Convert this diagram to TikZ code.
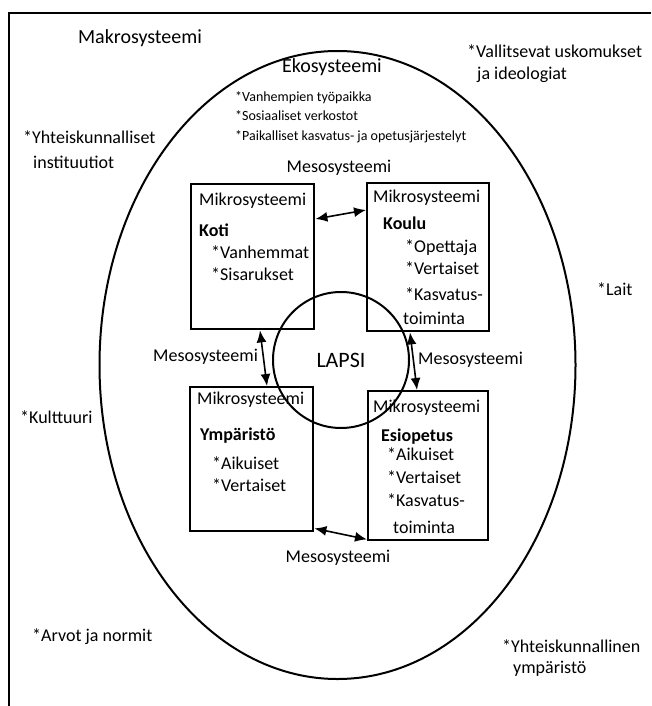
\documentclass[tikz,border=0pt]{standalone}
\usepackage{fontspec}
\setmainfont{Carlito}
\usetikzlibrary{arrows.meta,positioning}
\tikzset{>={Latex[length=12pt,width=10pt]},
	box/.style={% the four microsystems
		draw, rectangle,
		line width=2.4pt,
		anchor=north west,
		inner sep=0pt
	},
	boxtext/.style={
		align=left,
		inner sep=0pt,
		font=\fontsize{18}{22}\selectfont
	},
	note/.style={inner sep=0pt, align=left, font=\fontsize{18}{22}\selectfont},
	big/.style={inner sep=0pt, font=\fontsize{20}{25}\selectfont},
	small/.style={inner sep=0pt, align=left, font=\fontsize{14}{19.5}\selectfont},
	link/.style={<->, line width=1.6pt}
}
\begin{document}
\begin{tikzpicture}[x=1pt, y=-1pt]
		\useasboundingbox (0,0) rectangle (651,706);
		\draw [line width=2.2pt] (651,13) -- (9,13) -- (9,706);
		\draw [line width=2pt] (337.5,365) ellipse [x radius=238pt, y radius=314pt];

		\node [big] (makro) at (140,38) {Makrosysteemi};
		\node [big] (eko) at (332,67) {Ekosysteemi};
		\node [small, anchor=west] (ekolist) at (235,117) {*Vanhempien työpaikka\\ *Sosiaaliset verkostot\\ *Paikalliset kasvatus- ja opetusjärjestelyt};

		\node [note, anchor=west, font=\fontsize{18}{22}\selectfont] (usko) at (467,64) {*Vallitsevat uskomukset\\ \hspace*{10pt}ja ideologiat};
		\node [note, anchor=west, font=\fontsize{18}{25}\selectfont] (inst) at (23,150) {*Yhteiskunnalliset\\ \hspace*{10pt}instituutiot};
		\node [note, anchor=west] (lait) at (597,289) {*Lait};
		\node [note, anchor=west] (kult) at (20,417) {*Kulttuuri};
		\node [note, anchor=west] (arvot) at (32,637) {*Arvot ja normit};
		\node [note, anchor=west, font=\fontsize{18}{21}\selectfont] (ymp) at (502,658) {*Yhteiskunnallinen\\ \hspace*{11pt}ympäristö};

		\node [draw, circle, line width=2pt, minimum size=136pt, inner sep=0pt, font=\fontsize{22}{26}\selectfont] (lapsi) at (341,360) {LAPSI};

		\node [box, minimum width=123pt, minimum height=145pt] (koti) at (190,183) {};
		\node [box, minimum width=122pt, minimum height=148pt] (koulu) at (366,182) {};
		\node [box, minimum width=123pt, minimum height=144pt] (ymparisto) at (189,386) {};
		\node [box, minimum width=120pt, minimum height=149pt] (esiopetus) at (367,390) {};

		\node [boxtext, below right=10pt and 9pt of koti.north west] (kotiT) {Mikrosysteemi\\[9pt] \textbf{Koti}\\ \hspace*{12pt}*Vanhemmat\\ \hspace*{12pt}*Sisarukset};
		\node [boxtext, below right=8pt and 7pt of koulu.north west] (kouluT) {Mikrosysteemi\\[5pt] \hspace*{10pt}\textbf{Koulu}\\[1pt] \hspace*{32pt}*Opettaja\\ \hspace*{32pt}*Vertaiset\\[4pt] \hspace*{32pt}*Kasvatus-\\[2pt] \hspace*{30pt}toiminta};
		\node [boxtext, below right=6pt and 8pt of ymparisto.north west] (ymparistoT) {Mikrosysteemi\\[14pt] \hspace*{3pt}\textbf{Ympäristö}\\[7pt] \hspace*{15pt}*Aikuiset\\ \hspace*{15pt}*Vertaiset};
		\node [boxtext, below right=10pt and 6pt of esiopetus.north west] (esiopetusT) {Mikrosysteemi\\[7pt] \hspace*{8pt}\textbf{Esiopetus}\\[-3pt] \hspace*{14pt}*Aikuiset\\[1pt] \hspace*{14pt}*Vertaiset\\[1pt] \hspace*{14pt}*Kasvatus-\\[5pt] \hspace*{20pt}toiminta};

		\node [note] (mesoA) at (339,168) {Mesosysteemi};
		\node [note, anchor=west] (mesoB) at (153,357) {Mesosysteemi};
		\node [note, anchor=west] (mesoC) at (418,360) {Mesosysteemi};
		\node [note] (mesoD) at (338,558) {Mesosysteemi};

		\draw [link] ([yshift=-36pt]koti.north east) -- ([yshift=-28pt]koulu.north west);
		\draw [link] ([xshift=70pt]koti.south west) -- ([xshift=78pt]ymparisto.north west);
		\draw [link] ([xshift=44pt]koulu.south west) -- ([xshift=50pt]esiopetus.north west);
		\draw [link] ([yshift=4pt]ymparisto.south east) -- ([yshift=2pt]esiopetus.south west);
	\end{tikzpicture}
\end{document}
